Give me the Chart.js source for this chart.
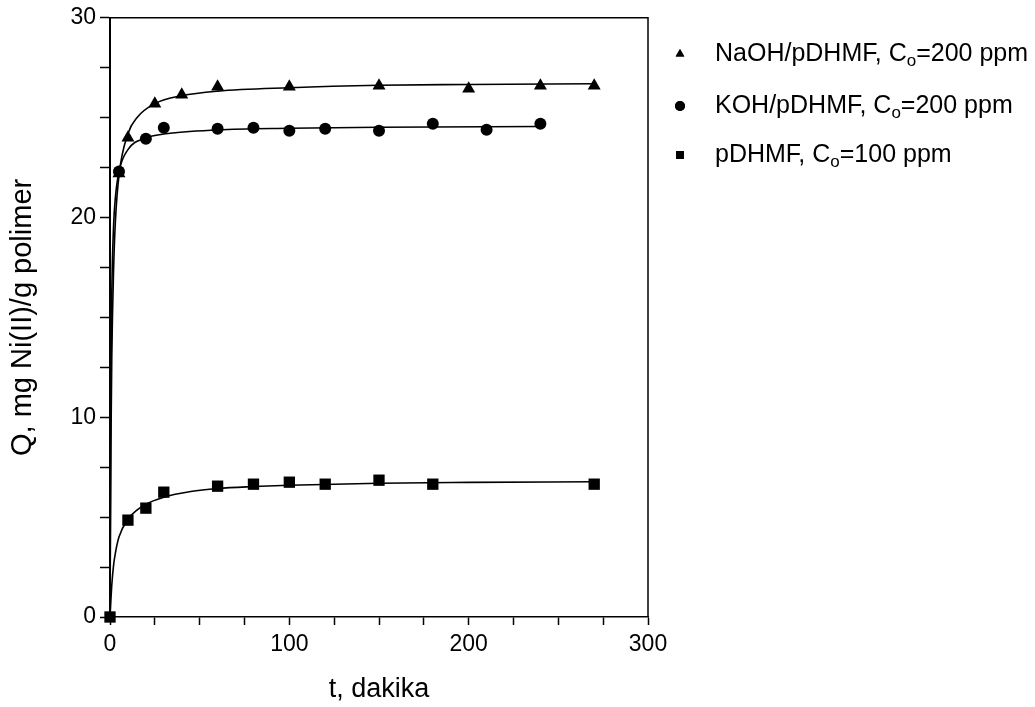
<!DOCTYPE html>
<html>
<head>
<meta charset="utf-8">
<script src="https://cdn.jsdelivr.net/npm/chart.js@4"></script>
<style>
  html, body { margin: 0; padding: 0; background: #fff; }
  #wrap { width: 1035px; height: 707px; }
</style>
</head>
<body>
<div id="wrap"><canvas id="kinetik"></canvas></div>
<script>
// ölçülen noktalar
var naohT = [5, 10, 25, 40, 60, 100, 150, 200, 240, 270];
var naohQ = [22.2, 24.0, 25.7, 26.15, 26.55, 26.55, 26.6, 26.45, 26.6, 26.6];

var kohT = [5, 20, 30, 60, 80, 100, 120, 150, 180, 210, 240];
var kohQ = [22.3, 23.95, 24.5, 24.45, 24.5, 24.35, 24.45, 24.35, 24.7, 24.4, 24.7];

var pdT = [0, 10, 20, 30, 60, 80, 100, 120, 150, 180, 270];
var pdQ = [0, 4.85, 5.45, 6.25, 6.55, 6.65, 6.75, 6.65, 6.85, 6.65, 6.65];

// egri (fit) cizgileri
var naohFitT = [0, 0.5, 1, 2, 3, 5, 10, 15, 25, 40, 60, 100, 150, 200, 270];
var naohFitQ = [0, 8.5, 13.0, 17.4, 19.8, 22.1, 24.2, 25.0, 25.7, 26.1, 26.33, 26.5, 26.62, 26.66, 26.7];

var kohFitT = [0, 0.5, 1, 2, 3, 5, 10, 20, 30, 60, 100, 150, 240];
var kohFitQ = [0, 11.5, 16.2, 19.6, 21.0, 22.3, 23.4, 23.98, 24.18, 24.39, 24.47, 24.52, 24.56];

var pdFitT = [0, 1, 2, 3, 5, 10, 15, 20, 30, 45, 60, 80, 100, 150, 200, 270];
var pdFitQ = [0, 1.6, 2.6, 3.2, 4.0, 4.9, 5.35, 5.65, 6.0, 6.28, 6.43, 6.53, 6.6, 6.7, 6.74, 6.77];

var legendLabels = [
  ['NaOH/pDHMF, C', 'o', '=200 ppm'],
  ['KOH/pDHMF, C', 'o', '=200 ppm'],
  ['pDHMF, C', 'o', '=100 ppm']
];
var legendStyles = ['triangle', 'circle', 'rect'];

function pts(xs, ys) {
  return xs.map(function (x, i) { return { x: x, y: ys[i] }; });
}

var fontName = '"Liberation Sans", Arial, Helvetica, sans-serif';

function fitSet(xs, ys) {
  return {
    data: pts(xs, ys),
    showLine: true,
    borderColor: '#000',
    borderWidth: 1.6,
    pointRadius: 0,
    cubicInterpolationMode: 'monotone',
    order: 2
  };
}

function markSet(xs, ys, style, r) {
  return {
    data: pts(xs, ys),
    showLine: false,
    pointStyle: style,
    pointRadius: r,
    backgroundColor: '#000',
    borderColor: '#000',
    borderWidth: 0,
    order: 1
  };
}

// cerceve + sag taraftaki lejant
var framePlugin = {
  id: 'frame',
  afterDraw: function (chart) {
    var a = chart.chartArea, ctx = chart.ctx;
    ctx.save();
    ctx.strokeStyle = '#000';
    ctx.lineWidth = 1.5;
    ctx.beginPath();
    ctx.moveTo(a.left, a.top);
    ctx.lineTo(a.right, a.top);
    ctx.lineTo(a.right, a.bottom);
    ctx.stroke();

    var rows = [54, 106, 155];
    for (var i = 0; i < legendLabels.length; i++) {
      var y = rows[i];
      ctx.fillStyle = '#000';
      Chart.helpers.drawPoint(ctx, { pointStyle: legendStyles[i], radius: legendStyles[i] == 'rect' ? 5.5 : 5, borderWidth: 0 }, 680, y);
      ctx.fill();
      var x = 715;
      var lab = legendLabels[i];
      ctx.textBaseline = 'middle';
      ctx.font = '25px ' + fontName;
      ctx.fillText(lab[0], x, y);
      x += ctx.measureText(lab[0]).width;
      ctx.font = '17px ' + fontName;
      ctx.fillText(lab[1], x, y + 7);
      x += ctx.measureText(lab[1]).width;
      ctx.font = '25px ' + fontName;
      ctx.fillText(lab[2], x, y);
    }
    ctx.restore();
  }
};

new Chart(document.getElementById('kinetik'), {
  type: 'scatter',
  data: {
    datasets: [
      fitSet(naohFitT, naohFitQ),
      fitSet(kohFitT, kohFitQ),
      fitSet(pdFitT, pdFitQ),
      markSet(naohT, naohQ, 'triangle', 7.5),
      markSet(kohT, kohQ, 'circle', 6),
      markSet(pdT, pdQ, 'rect', 8)
    ]
  },
  options: {
    responsive: true,
    maintainAspectRatio: false,
    animation: false,
    clip: false,
    layout: { padding: { left: 0, right: 387, top: 15, bottom: 0 } },
    plugins: { legend: { display: false }, tooltip: { enabled: false } },
    scales: {
      x: {
        type: 'linear',
        min: 0, max: 300,
        afterFit: function (s) { s.height = 90; },
        border: { display: true, color: '#000', width: 1.5 },
        grid: { drawOnChartArea: false, drawTicks: true, tickLength: 8, color: '#000', tickWidth: 1.5 },
        ticks: {
          stepSize: 25, color: '#000', padding: 6, maxRotation: 0,
          autoSkip: false,
          font: { family: fontName, size: 23 },
          callback: function (v) { return v % 100 === 0 ? String(v) : ''; }
        },
        title: {
          display: true, text: 't, dakika', color: '#000',
          font: { family: fontName, size: 27 },
          padding: { top: 0, bottom: 1 }
        }
      },
      y: {
        type: 'linear',
        min: 0, max: 30,
        afterFit: function (s) { s.width = 110; },
        border: { display: true, color: '#000', width: 2 },
        grid: { drawOnChartArea: false, drawTicks: true, tickLength: 10, color: '#000', tickWidth: 1.5 },
        ticks: {
          stepSize: 2.5, color: '#000', padding: 4,
          autoSkip: false,
          font: { family: fontName, size: 23 },
          callback: function (v) { return v % 10 === 0 ? String(v) : ''; }
        },
        title: {
          display: true, text: 'Q, mg Ni(II)/g polimer', color: '#000',
          font: { family: fontName, size: 29 },
          padding: { top: 6, bottom: 0 }
        }
      }
    }
  },
  plugins: [framePlugin]
});
</script>
</body>
</html>
